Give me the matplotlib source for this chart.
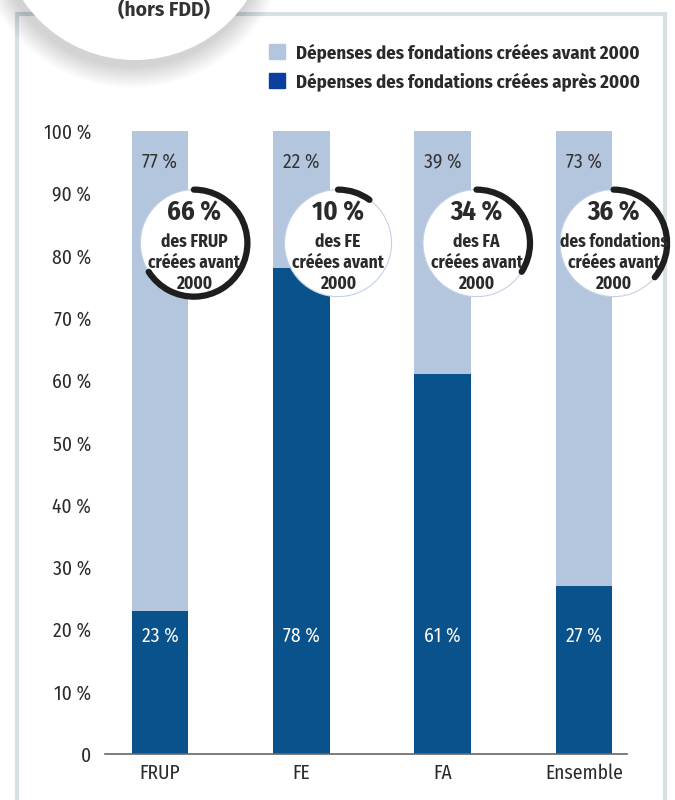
import matplotlib
matplotlib.use('Agg')
import matplotlib.pyplot as plt
import matplotlib.patches as mpatches
import matplotlib.transforms as mtransforms
import numpy as np

# ── Data ─────────────────────────────────────────────────────────────────────
categories = ['FRUP', 'FE', 'FA', 'Ensemble']
avant_2000 = [77, 22, 39, 73]      # % des dépenses, fondations créées avant 2000
apres_2000 = [23, 78, 61, 27]      # % des dépenses, fondations créées après 2000
part_creees_avant = [66, 10, 34, 36]
circle_labels = ['des FRUP', 'des FE', 'des FA', 'des fondations']
y_ticks = [0, 10, 20, 30, 40, 50, 60, 70, 80, 90, 100]
legend_labels = ['Dépenses des fondations créées avant 2000',
                 'Dépenses des fondations créées après 2000']

# ── Style ────────────────────────────────────────────────────────────────────
LIGHT = '#b4c5de'
DARK = '#0a528b'
LEGEND_DARK = '#0b3f9e'
TEXT = '#2a2a2a'
FRAME = '#d6e0e3'
NARROW = ['Fira Sans Condensed', 'DejaVu Sans']

W, H = 675, 800
fig = plt.figure(figsize=(W / 100, H / 100), dpi=100)
fig.patch.set_facecolor('white')

ax = fig.add_axes([105 / W, 1 - 754 / H, 522 / W, 623 / H])
ax.patch.set_visible(False)

x = np.arange(len(categories))
ax.bar(x, apres_2000, width=0.40, color=DARK, zorder=2)
ax.bar(x, avant_2000, width=0.40, bottom=apres_2000, color=LIGHT, zorder=2)

ax.set_xlim(-0.389, 3.305)
ax.set_ylim(0, 100)
ax.set_yticks(y_ticks)
ax.set_yticklabels([f'{v} %' if v else '0' for v in y_ticks],
                   family=NARROW, fontsize=14, fontweight='normal', color=TEXT)
ax.set_xticks(x)
ax.set_xticklabels(categories, family=NARROW, fontsize=14, fontweight='normal',
                   color=TEXT)
ax.tick_params(axis='y', length=0, pad=10)
ax.tick_params(axis='x', length=0, pad=7)
for s in ['top', 'right', 'left']:
    ax.spines[s].set_visible(False)
ax.spines['bottom'].set_color('#666666')
ax.spines['bottom'].set_linewidth(1.2)

# bar value labels
for xi, top, bot in zip(x, avant_2000, apres_2000):
    ax.text(xi, 95, f'{top} %', ha='center', va='center', family=NARROW,
            fontsize=14, color='#333333', zorder=3)
    ax.text(xi, 19, f'{bot} %', ha='center', va='center', family=NARROW,
            fontsize=14, color='white', zorder=3)

# ── Circles with arcs ────────────────────────────────────────────────────────
R = 0.535  # inches
circle_dx = [0.24, 0.26, 0.24, 0.21]
for xi, pct, lab, dx in zip(x, part_creees_avant, circle_labels, circle_dx):
    cx, cy = xi + dx, 82
    tr = fig.dpi_scale_trans + mtransforms.ScaledTranslation(cx, cy, ax.transData)
    ax.add_patch(mpatches.Circle((0, 0), R, transform=tr, facecolor='white',
                                 edgecolor='#c3d1e6', lw=0.8, zorder=4,
                                 clip_on=False))
    arc = mpatches.Arc((0, 0), 2 * R, 2 * R, theta1=90 - pct * 3.6, theta2=90,
                       transform=tr, color='#1e1e1e', lw=4.5, zorder=5,
                       clip_on=False)
    arc.set_capstyle('round')
    ax.add_patch(arc)
    lines = [(f'{pct} %', 19, 22), (lab, 12.5, 1), ('créées avant', 12.5, -14),
             ('2000', 12.5, -29)]
    for txt, fs, dy in lines:
        t = mtransforms.offset_copy(ax.transData, fig=fig, x=0, y=dy, units='points')
        ax.text(cx, cy, txt, transform=t, ha='center', va='center', family=NARROW,
                fontsize=fs, fontweight='bold', color=TEXT, zorder=6,
                clip_on=False)

# ── Frame ────────────────────────────────────────────────────────────────────
px = lambda v: v / W
py = lambda v: 1 - v / H
fig.add_artist(mpatches.Rectangle((px(17), py(830)), px(665) - px(17), py(14) - py(830),
                                  transform=fig.transFigure, fill=False,
                                  edgecolor=FRAME, lw=3, zorder=-1))

# ── Title bubble (top-left) ──────────────────────────────────────────────────
bcx, bcy, br = 135, -75, 135
for i in range(22, 0, -1):
    fig.add_artist(mpatches.Ellipse((px(bcx - 3), py(bcy + 6)), 2 * (br + i) / W,
                                    2 * (br + i) / H, transform=fig.transFigure,
                                    facecolor='#000000', alpha=0.006, lw=0, zorder=8))
fig.add_artist(mpatches.Ellipse((px(bcx), py(bcy)), 2 * br / W, 2 * br / H,
                                transform=fig.transFigure, facecolor='white',
                                lw=0, zorder=9))
fig.text(px(164), py(16), '(hors FDD)', ha='center', va='baseline',
         fontsize=14, fontweight='bold', color='#333333',
         family=['Fira Sans', 'DejaVu Sans'], zorder=10)

# ── Legend ───────────────────────────────────────────────────────────────────
handles = [mpatches.Patch(color=LIGHT), mpatches.Patch(color=LEGEND_DARK)]
leg = ax.legend(handles, legend_labels, loc='upper left',
                bbox_to_anchor=(px(252), py(26)), bbox_transform=fig.transFigure,
                frameon=False, handlelength=0.85, handleheight=0.85,
                handletextpad=0.6, labelspacing=0.55,
                prop={'family': NARROW, 'size': 13.5, 'weight': 'bold'})
for t in leg.get_texts():
    t.set_color(TEXT)

plt.savefig('out.png', dpi=100)
